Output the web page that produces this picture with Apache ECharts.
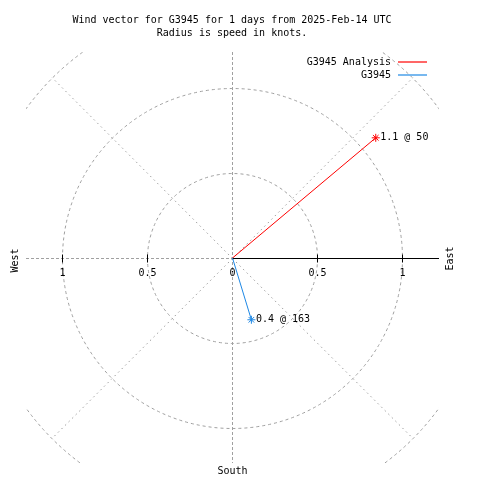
<!DOCTYPE html>
<html>
<head>
<meta charset="utf-8">
<script src="https://cdn.jsdelivr.net/npm/echarts@6/dist/echarts.min.js"></script>
<style>html,body{margin:0;padding:0;background:#fff}#c{width:480px;height:480px}</style>
</head>
<body>
<div id="c"></div>
<script>
// ---- data ----
const titleLines = ['Wind vector for G3945 for 1 days from 2025-Feb-14 UTC', 'Radius is speed in knots.'];
const seriesNames = ['G3945 Analysis', 'G3945'];
const seriesColors = ['#ff0000', '#1e88e5'];
const speeds = [1.1, 0.38];          // knots
const directions = [50, 163];        // degrees clockwise from north
const ringRadii = [0.5, 1, 1.5];
const spokeAngles = [45, 135, 225, 315];
const tickValues = [-1, -0.5, 0, 0.5, 1];
const tickLabels = ['1', '0.5', '0', '0.5', '1'];
const compassLabels = ['West', 'East', 'South'];

const FAMILY = '"DejaVu Sans Mono", monospace';
const FONT = '10px ' + FAMILY;
const GREY = '#a0a0a0';

function vecEnd(s, d) {
  const a = d * Math.PI / 180;
  return [s * Math.sin(a), s * Math.cos(a)];
}

const asterisk = 'path://M0,-5L0,5M-5,0L5,0M-3.5,-3.5L3.5,3.5M-3.5,3.5L3.5,-3.5';

const vectorSeries = seriesNames.map((name, i) => {
  const e = vecEnd(speeds[i], directions[i]);
  return {
    name: name,
    type: 'line',
    color: seriesColors[i],
    lineStyle: { color: seriesColors[i], width: 1 },
    symbol: asterisk,
    symbolSize: 8,
    itemStyle: { color: 'none', borderColor: seriesColors[i], borderWidth: 1 },
    animation: false,
    z: 5,
    data: [
      { value: [0, 0], symbol: 'none' },
      { value: e, label: {
          show: true, position: 'right', distance: -2,
          formatter: speeds[i].toFixed(1) + ' @ ' + directions[i],
          fontFamily: FAMILY, fontSize: 10, color: '#000'
      } }
    ]
  };
});

const decor = {
  type: 'custom',
  name: 'decor',
  silent: true,
  animation: false,
  z: 1,
  data: [[0, 0]],
  renderItem: function (params, api) {
    const cs = params.coordSys;
    const c0 = api.coord([0, 0]);
    const c = [Math.floor(c0[0]) + 0.5, Math.floor(c0[1]) + 0.5];
    const ux = api.size([1, 1])[0];
    const clipRect = () => ({ type: 'rect', shape: { x: cs.x, y: cs.y, width: cs.width, height: cs.height } });
    const ch = [];
    ringRadii.forEach(r => {
      ch.push({ type: 'circle', shape: { cx: c[0], cy: c[1], r: r * ux },
        style: { fill: null, stroke: GREY, lineWidth: 1, lineDash: [3, 3] }, clipPath: clipRect() });
    });
    spokeAngles.forEach(a => {
      const p = api.coord(vecEnd(ringRadii[ringRadii.length - 1], a));
      ch.push({ type: 'line', shape: { x1: c[0], y1: c[1], x2: p[0], y2: p[1] },
        style: { stroke: GREY, lineWidth: 1, lineDash: [1.5, 3.5] }, clipPath: clipRect() });
    });
    // north-south line
    ch.push({ type: 'line', shape: { x1: c[0], y1: cs.y, x2: c[0], y2: cs.y + cs.height },
      style: { stroke: GREY, lineWidth: 1, lineDash: [3, 2] } });
    // west line
    ch.push({ type: 'line', shape: { x1: cs.x, y1: c[1], x2: c[0], y2: c[1] },
      style: { stroke: GREY, lineWidth: 1, lineDash: [3, 2] } });
    // east line (solid)
    ch.push({ type: 'line', shape: { x1: c[0], y1: c[1], x2: cs.x + cs.width, y2: c[1] },
      style: { stroke: '#000', lineWidth: 1 } });
    tickValues.forEach((v, i) => {
      const p = api.coord([v, 0]);
      const px = Math.floor(p[0]) + 0.5;
      if (v !== 0) {
        ch.push({ type: 'line', shape: { x1: px, y1: c[1] - 4, x2: px, y2: c[1] + 4 },
          style: { stroke: '#000', lineWidth: 1 } });
      }
      ch.push({ type: 'text', x: px, y: c[1] + 15,
        style: { text: tickLabels[i], font: FONT, fill: '#000', align: 'center', verticalAlign: 'middle' } });
    });
    ch.push({ type: 'text', x: cs.x - 11, y: c[1] + 2, rotation: Math.PI / 2,
      style: { text: compassLabels[0], font: FONT, fill: '#000', align: 'center', verticalAlign: 'middle' } });
    ch.push({ type: 'text', x: cs.x + cs.width + 11, y: c[1], rotation: Math.PI / 2,
      style: { text: compassLabels[1], font: FONT, fill: '#000', align: 'center', verticalAlign: 'middle' } });
    ch.push({ type: 'text', x: c[0], y: cs.y + cs.height + 8,
      style: { text: compassLabels[2], font: FONT, fill: '#000', align: 'center', verticalAlign: 'middle' } });
    return { type: 'group', children: ch };
  }
};

const chart = echarts.init(document.getElementById('c'), null, { renderer: 'canvas' });
chart.setOption({
  animation: false,
  backgroundColor: '#fff',
  graphic: titleLines.map((t, i) => ({
    type: 'text', x: 232, y: 20 + i * 13,
    style: { text: t, font: FONT, fill: '#000', align: 'center', verticalAlign: 'middle' }
  })),
  legend: {
    data: seriesNames.map((n, i) => ({
      name: n,
      icon: 'rect',
      itemStyle: { color: seriesColors[i], borderWidth: 0 }
    })),
    orient: 'vertical',
    align: 'right',
    right: 53,
    top: 57,
    padding: 0,
    itemGap: 3,
    itemWidth: 29,
    itemHeight: 1.2,
    textStyle: { fontFamily: FAMILY, fontSize: 10, color: '#000', padding: [0, 2, 0, 0] },
    selectedMode: false
  },
  grid: { left: 26, top: 52, width: 413, height: 411, containLabel: false },
  xAxis: { type: 'value', min: -1.2147, max: 1.2147, show: false },
  yAxis: { type: 'value', min: -1.2059, max: 1.2118, show: false },
  series: [decor].concat(vectorSeries)
});
</script>
</body>
</html>
